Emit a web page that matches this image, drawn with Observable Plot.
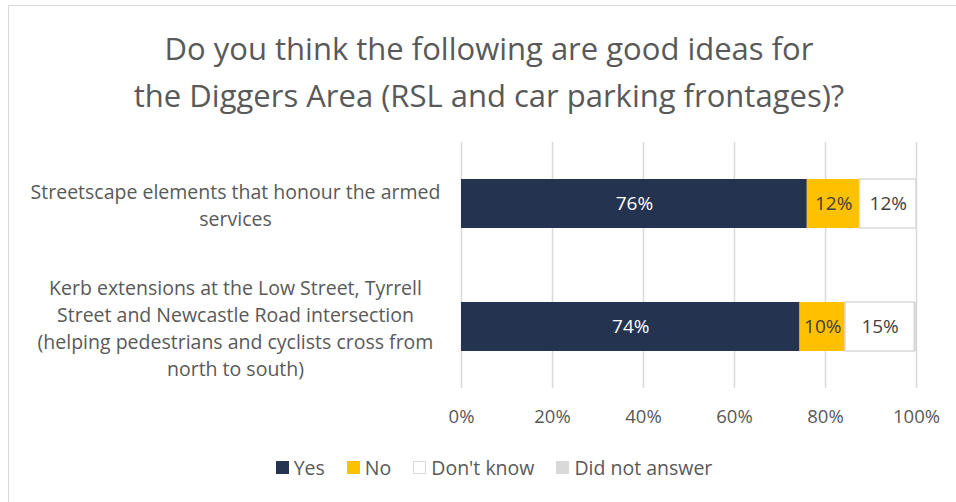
<!DOCTYPE html>
<html>
<head>
<meta charset="utf-8">
<script src="https://cdn.jsdelivr.net/npm/d3@7"></script>
<script src="https://cdn.jsdelivr.net/npm/@observablehq/plot@0.6"></script>
<style>
  html, body { margin: 0; padding: 0; background: #fff; }
  body { width: 956px; height: 502px; overflow: hidden; position: relative; font-family: "Open Sans", Lato, sans-serif; color: #595959; }
  #frame { position: absolute; left: 8px; top: 5px; width: 1000px; height: 600px; border-left: 1.5px solid #d9d9d9; border-top: 1.5px solid #d9d9d9; }
  #title { position: absolute; left: 0; width: 978px; top: 25px; text-align: center; font-size: 31px; line-height: 47px; color: #595959; }
  #chart { position: absolute; left: 0; top: 130px; }
  #legend { position: absolute; left: 0; width: 988px; top: 454px; display: flex; justify-content: center; gap: 22px; font-size: 19.5px; color: #595959; }
  .item { display: flex; align-items: center; gap: 5px; }
  .sw { width: 13px; height: 13px; box-sizing: border-box; }
</style>
</head>
<body>
<div id="frame"></div>
<div id="title"></div>
<div id="chart"></div>
<div id="legend"></div>
<script>
const titleLines = ["Do you think the following are good ideas for", "the Diggers Area (RSL and car parking frontages)?"];
const categories = [
  "Streetscape elements that honour the armed\nservices",
  "Kerb extensions at the Low Street, Tyrrell\nStreet and Newcastle Road intersection\n(helping pedestrians and cyclists cross from\nnorth to south)"
];
const responses = ["Yes", "No", "Don't know", "Did not answer"];
const colors = ["#243450", "#FFC000", "#FFFFFF", "#D9D9D9"];
const yes = [76.0, 74.4];
const no = [11.6, 10.0];
const dontKnow = [12.4, 15.2];
const didNotAnswer = [0, 0.4];
const xTicks = [0, 20, 40, 60, 80, 100];

const series = [yes, no, dontKnow, didNotAnswer];
const data = [];
categories.forEach((c, i) => {
  responses.forEach((r, j) => {
    data.push({category: c, response: r, value: series[j][i]});
  });
});

document.getElementById("title").innerHTML = titleLines.join("<br>");

const chart = Plot.plot({
  width: 956,
  height: 310,
  marginLeft: 461,
  marginRight: 40,
  marginTop: 12,
  marginBottom: 52,
  style: {fontFamily: "'Open Sans', Lato, sans-serif", fontSize: "18px", color: "#595959", background: "transparent"},
  x: {domain: [0, 100], axis: null},
  y: {domain: categories, axis: null, paddingInner: 0.6, paddingOuter: 0.3},
  color: {domain: responses, range: colors},
  marks: [
    Plot.gridX(xTicks, {stroke: "#d9d9d9", strokeOpacity: 1, strokeWidth: 1.5}),
    Plot.axisX(xTicks, {tickSize: 0, tickPadding: 21, tickFormat: d => d + "%", fill: "#595959", fontSize: 18.5, label: null}),
    Plot.barX(data, Plot.stackX({x: "value", y: "category", fill: "response", stroke: d => d.response === "Don't know" ? "#d9d9d9" : "none", strokeWidth: 1.5, order: responses})),
    Plot.text(data.filter(d => d.value >= 1 && d.response !== "Did not answer"), Plot.stackX({
      x: "value", y: "category", order: responses,
      text: d => Math.round(d.value) + "%",
      fill: d => d.response === "Yes" ? "#ffffff" : "#404040",
      fontSize: 19
    })),
    Plot.text(categories, {
      y: d => d, text: d => d, frameAnchor: "left", dx: -226, textAnchor: "middle",
      lineHeight: 1.37, fill: "#595959", fontSize: 19.5
    })
  ]
});
document.getElementById("chart").appendChild(chart);

const legend = document.getElementById("legend");
responses.forEach((r, i) => {
  const item = document.createElement("div");
  item.className = "item";
  const sw = document.createElement("div");
  sw.className = "sw";
  sw.style.background = colors[i];
  if (r === "Don't know") sw.style.border = "1.5px solid #d9d9d9";
  const t = document.createElement("span");
  t.textContent = r;
  item.appendChild(sw);
  item.appendChild(t);
  legend.appendChild(item);
});
</script>
</body>
</html>
